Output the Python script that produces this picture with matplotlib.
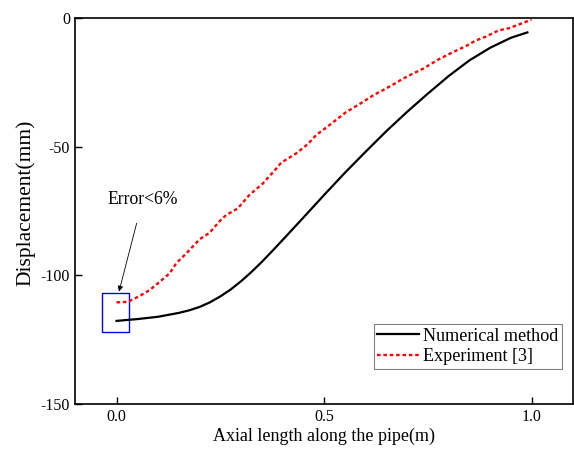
import matplotlib.pyplot as plt
import numpy as np

plt.rcParams['font.family'] = ['Liberation Serif', 'DejaVu Serif']
plt.rcParams['axes.unicode_minus'] = False

# numerical method curve
num_x = [0.0, 0.05, 0.1, 0.15, 0.175, 0.2, 0.225, 0.25, 0.275, 0.3, 0.325,
         0.35, 0.375, 0.4, 0.45, 0.5, 0.55, 0.6, 0.65, 0.7, 0.75, 0.8,
         0.85, 0.9, 0.95, 0.99]
num_y = [-117.7, -117.0, -116.1, -114.6, -113.6, -112.3, -110.5, -108.2,
         -105.5, -102.3, -98.7, -94.8, -90.6, -86.3, -77.6, -68.8, -60.2,
         -52.0, -44.0, -36.5, -29.4, -22.6, -16.5, -11.6, -7.7, -5.6]

# experiment [3]
exp_x = [0.0, 0.028, 0.036, 0.056, 0.08, 0.104, 0.128, 0.144, 0.168, 0.2,
         0.224, 0.248, 0.264, 0.292, 0.32, 0.352, 0.385, 0.397, 0.433,
         0.461, 0.481, 0.51, 0.537, 0.553, 0.585, 0.621, 0.645, 0.665,
         0.69, 0.713, 0.74, 0.753, 0.777, 0.81, 0.841, 0.865, 0.889, 0.921,
         0.945, 0.97, 1.0]
exp_y = [-110.5, -110.3, -109.6, -108.0, -105.7, -102.5, -99.2, -95.3,
         -91.5, -86.0, -83.5, -79.0, -76.6, -74.0, -68.8, -64.4, -58.5,
         -56.2, -52.6, -49.0, -45.5, -42.0, -38.6, -36.6, -33.5, -29.8,
         -27.8, -26.0, -23.6, -21.7, -19.6, -18.3, -16.0, -13.3, -11.0,
         -8.8, -7.3, -4.8, -4.0, -2.5, -0.6]

fig = plt.figure(figsize=(5.74, 4.5), dpi=100)
ax = fig.add_axes([0.1307, 0.1022, 0.8676, 0.8578])

ax.plot(num_x, num_y, color='black', lw=1.6, label='Numerical method')
ax.plot(exp_x, exp_y, color='red', lw=1.7, linestyle=(0, (1.5, 1.2)),
        label='Experiment [3]')

# error box
ax.add_patch(plt.Rectangle((-0.035, -122.2), 0.066, 15.3, fill=False,
                           edgecolor='blue', lw=1))
ax.annotate('Error<6%', xy=(0.006, -106.3), xytext=(0.063, -70.7),
            ha='center', va='center', fontsize=12.7,
            arrowprops=dict(arrowstyle='-|>', color='black', lw=0.6,
                            mutation_scale=8, shrinkA=9, shrinkB=0))

ax.set_xlim(-0.1, 1.1)
ax.set_ylim(-150, 0)
ax.set_xticks([0.0, 0.5, 1.0])
ax.set_xticklabels(['0.0', '0.5', '1.0'])
ax.set_yticks([0, -50, -100, -150])
ax.tick_params(direction='in', length=5, labelsize=11.5, width=1)
ax.set_xlabel('Axial length along the pipe(m)', fontsize=13, labelpad=2)
ax.set_ylabel('Displacement(mm)', fontsize=15.5)
ax.yaxis.set_label_coords(-0.08, 0.52)
for s in ax.spines.values():
    s.set_linewidth(1.2)

leg = ax.legend(loc='upper left', bbox_to_anchor=(0.60, 0.207), fontsize=13.1,
                fancybox=False, edgecolor='gray', framealpha=1,
                handlelength=2.3, borderpad=0.2, labelspacing=0.2,
                handletextpad=0.2, borderaxespad=0)
leg.get_frame().set_linewidth(0.8)

fig.savefig('out.png', dpi=100)
